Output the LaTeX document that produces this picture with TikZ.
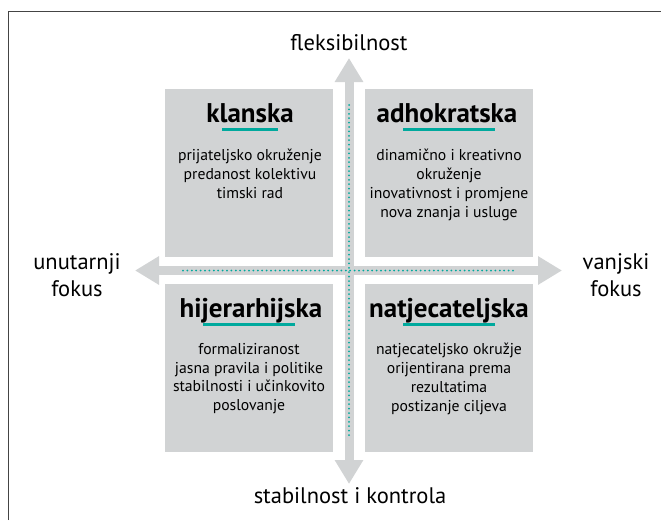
\documentclass[tikz,border=0pt]{standalone}
\usepackage{fontspec}
\setmainfont{PT Sans}
\usetikzlibrary{arrows.meta}
\definecolor{boxgray}{HTML}{D1D3D4}
\definecolor{tealc}{HTML}{00A99D}
\definecolor{framegray}{HTML}{444444}
\begin{document}
\begin{tikzpicture}[x=1pt,y=-1pt,
  quad/.style={fill=boxgray, minimum width=168pt, minimum height=168pt, inner sep=0pt, anchor=north west},
  axisarrow/.style={draw=boxgray, line width=9pt, {Triangle[width=27pt,length=24pt]}-{Triangle[width=27pt,length=24pt]}},
  dots/.style={draw=tealc, line width=2pt, line cap=round, dash pattern=on 0pt off 4.4pt},
  title/.style={font=\fontsize{27}{30}\selectfont\bfseries, anchor=base, inner sep=0pt},
  uline/.style={draw=tealc, line width=3pt},
  body/.style={font=\fontsize{15.7}{18.8}\selectfont, align=center, anchor=north, inner sep=0pt},
  axlabel/.style={font=\fontsize{22.5}{27}\selectfont, align=center, inner sep=0pt}]
\useasboundingbox (0,0) rectangle (661,520);
\fill[white] (0,0) rectangle (661,520);
\draw[framegray, line width=1.2pt] (8.5,520) -- (8.5,11.5) -- (661,11.5);

% axes
\coordinate (vt) at (349,58);
\coordinate (vb) at (349,484);
\coordinate (hl) at (135,270.5);
\coordinate (hr) at (562,270.5);
\draw[axisarrow] (vb) -- (vt);
\draw[axisarrow] (hl) -- (hr);

% quadrants
\node[quad] (tl) at (165,89) {};
\node[quad] (tr) at (365,89) {};
\node[quad] (bl) at (165,284) {};
\node[quad] (br) at (365,284) {};

% dotted lines
\coordinate (dvt) at (349,105);
\coordinate (dvb) at (349,437);
\coordinate (dhl) at (183,270.5);
\coordinate (dhr) at (515,270.5);
\draw[dots] (dvt) -- (dvb);
\draw[dots] (dhl) -- (dhr);

% titles
\node[title] (t1) at (250,122) {klanska};
\node[title] (t2) at (447,122) {adhokratska};
\node[title] (t3) at (251,317) {hijerarhijska};
\node[title] (t4) at (449,317) {natjecateljska};
\draw[uline] (222,129) -- (278,129);
\draw[uline] (403,129) -- (495,129);
\draw[uline] (203,324) -- (295,324);
\draw[uline] (403,324) -- (495,324);

% bodies
\node[body] (b1) at (250,149) {prijateljsko okruženje\\predanost kolektivu\\timski rad};
\node[body] (b2) at (449,149) {dinamično i kreativno\\okruženje\\inovativnost i promjene\\nova znanja i usluge};
\node[body] (b3) at (249,343) {formaliziranost\\jasna pravila i politike\\stabilnosti i učinkovito\\poslovanje};
\node[body] (b4) at (449,343) {natjecateljsko okružje\\orijentirana prema\\rezultatima\\postizanje ciljeva};

% axis labels
\node[axlabel, anchor=base] (flex) at (349,50) {fleksibilnost};
\node[axlabel, anchor=base] (stab) at (350,503) {stabilnost i kontrola};
\node[axlabel, anchor=north] (unut) at (77,253) {unutarnji\\fokus};
\node[axlabel, anchor=north] (vanj) at (616,253) {vanjski\\fokus};
\end{tikzpicture}
\end{document}
